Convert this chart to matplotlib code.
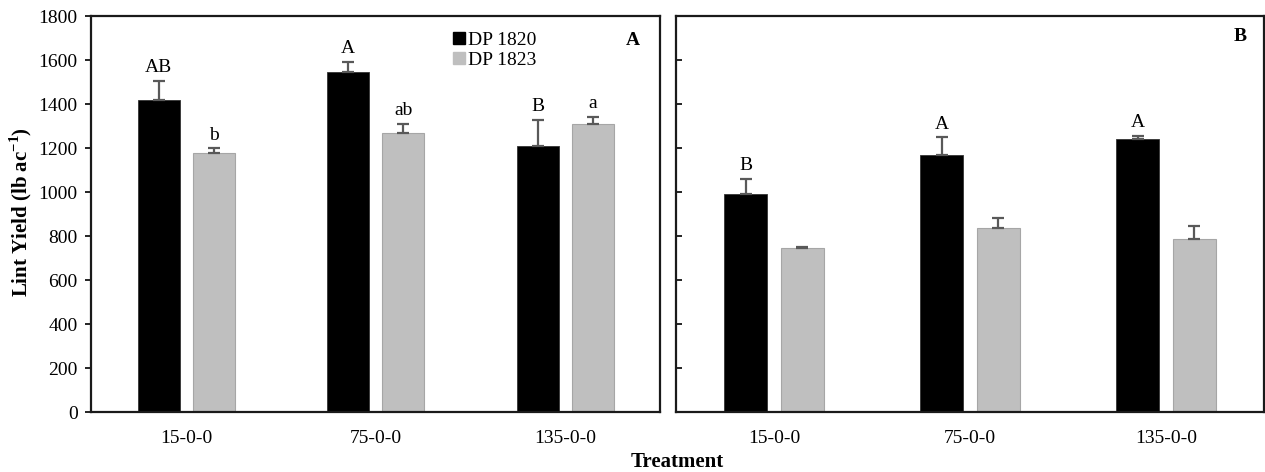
import numpy as np
import matplotlib.pyplot as plt
from matplotlib.lines import Line2D

plt.rcParams['font.family'] = ['Liberation Serif', 'DejaVu Serif']
plt.rcParams['mathtext.fontset'] = 'custom'
plt.rcParams['mathtext.rm'] = 'Liberation Serif'
plt.rcParams['mathtext.bf'] = 'Liberation Serif:bold'

# Data
treatments = ['15-0-0', '75-0-0', '135-0-0']
cultivars = ['DP 1820', 'DP 1823']

# Panel A
a_1820 = [1420, 1545, 1208]
a_1820_err = [85, 48, 120]
a_1823 = [1178, 1268, 1310]
a_1823_err = [20, 42, 33]
a_1820_lbl = ['AB', 'A', 'B']
a_1823_lbl = ['b', 'ab', 'a']

# Panel B
b_1820 = [990, 1170, 1242]
b_1820_err = [70, 78, 12]
b_1823 = [745, 836, 787]
b_1823_err = [5, 48, 57]
b_1820_lbl = ['B', 'A', 'A']
b_1823_lbl = ['', '', '']

black = '#000000'
grey = '#bfbfbf'
ecol = '#595959'
fs = 14

fig = plt.figure(figsize=(12.65, 4.72), dpi=100)
axA = fig.add_axes([0.0723, 0.1271, 0.4494, 0.839])
axB = fig.add_axes([0.5344, 0.1271, 0.4648, 0.839])

x = np.arange(len(treatments))
w = 0.22
off = 0.145


def draw(ax, v1, e1, v2, e2, l1, l2):
    ax.bar(x - off, v1, w, color=black, edgecolor='#333333', linewidth=0.6, zorder=2)
    ax.bar(x + off, v2, w, color=grey, edgecolor='#a6a6a6', linewidth=0.8, zorder=2)
    ax.errorbar(x - off, v1, yerr=[np.zeros(3), e1], fmt='none', ecolor=ecol,
                elinewidth=1.6, capsize=4, capthick=1.6, zorder=3)
    ax.errorbar(x + off, v2, yerr=[np.zeros(3), e2], fmt='none', ecolor=ecol,
                elinewidth=1.6, capsize=4, capthick=1.6, zorder=3)
    for i in range(len(x)):
        if l1[i]:
            ax.text(x[i] - off, v1[i] + e1[i] + 22, l1[i], ha='center', va='bottom', fontsize=fs)
        if l2[i]:
            ax.text(x[i] + off, v2[i] + e2[i] + 22, l2[i], ha='center', va='bottom', fontsize=fs)
    ax.set_xlim(-0.5, 2.5)
    ax.set_ylim(0, 1800)
    ax.set_yticks(range(0, 1801, 200))
    ax.set_xticks(x)
    ax.set_xticklabels(treatments, fontsize=fs)
    ax.tick_params(axis='x', length=0, pad=13)
    for s in ax.spines.values():
        s.set_linewidth(1.6)
        s.set_color('#1a1a1a')


draw(axA, a_1820, a_1820_err, a_1823, a_1823_err, a_1820_lbl, a_1823_lbl)
draw(axB, b_1820, b_1820_err, b_1823, b_1823_err, b_1820_lbl, b_1823_lbl)

axA.tick_params(axis='y', direction='out', length=4, width=1.2, labelsize=fs, pad=6)
axB.tick_params(axis='y', direction='in', length=4, width=1.2, labelleft=False)

# axis titles
fig.text(0.0165, 0.55, 'Lint Yield (lb ac$^{\\mathbf{-1}}$)', rotation=90, ha='center', va='center',
         fontsize=15, fontweight='bold')
fig.text(0.535, 0.022, 'Treatment', ha='center', va='center', fontsize=15, fontweight='bold')

axA.text(0.9525, 0.939, 'A', transform=axA.transAxes, ha='center', va='center',
         fontsize=fs, fontweight='bold')
axB.text(0.959, 0.947, 'B', transform=axB.transAxes, ha='center', va='center',
         fontsize=fs, fontweight='bold')

handles = [Line2D([], [], marker='s', linestyle='none', markersize=9, color=black),
           Line2D([], [], marker='s', linestyle='none', markersize=9, color=grey)]
axA.legend(handles, cultivars, loc='upper left', bbox_to_anchor=(0.62, 0.985), frameon=False,
           fontsize=fs, handlelength=0.6, handletextpad=0.15, borderpad=0, labelspacing=0.1)

fig.savefig('out.png', dpi=100)
